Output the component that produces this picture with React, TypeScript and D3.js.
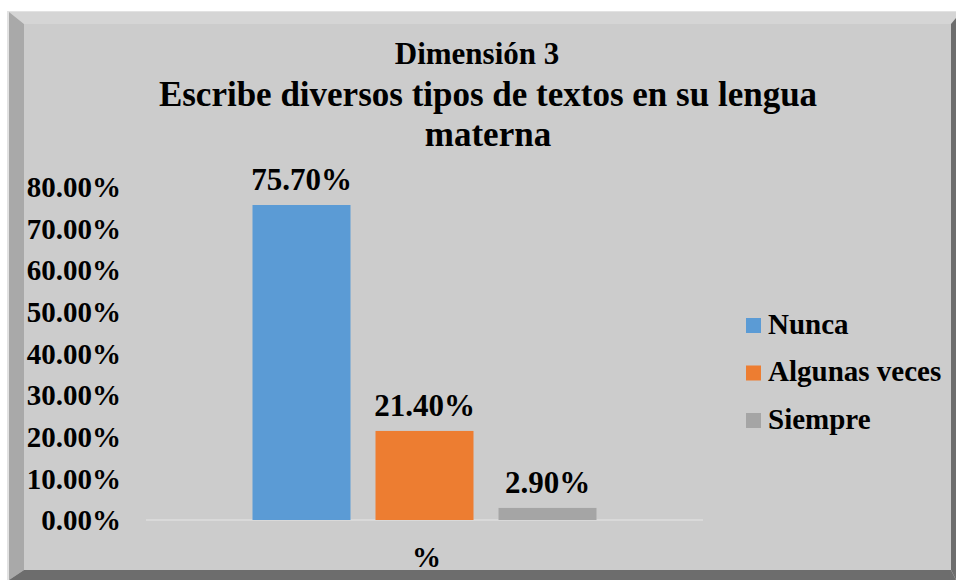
import React from "react";
import * as d3 from "d3";

const titleLines = ["Dimensión 3", "Escribe diversos tipos de textos en su lengua", "materna"];
const category = "%";
const seriesNames = ["Nunca", "Algunas veces", "Siempre"];
const seriesValues = [75.7, 21.4, 2.9];
const seriesColors = ["#5B9BD5", "#ED7D31", "#A5A5A5"];
const yTicks = [0, 10, 20, 30, 40, 50, 60, 70, 80];

const W = 956;
const H = 580;
const FONT = "'Liberation Serif', 'Times New Roman', serif";

export default function App() {
  const plotLeft = 146;
  const plotRight = 703;
  const y = d3.scaleLinear().domain([0, 75.7]).range([520, 205]);
  const x0 = d3.scaleBand().domain([category]).range([plotLeft, plotRight]).paddingInner(0).paddingOuter(0);
  const groupW = 344;
  const x1 = d3
    .scaleBand()
    .domain(seriesNames)
    .range([x0(category)! + (x0.bandwidth() - groupW) / 2, x0(category)! + (x0.bandwidth() + groupW) / 2])
    .paddingInner(25 / 123)
    .paddingOuter(0);

  const txt = { fontFamily: FONT, fontWeight: 700 as const };
  const titleX = [477, 488, 488];
  const titleY = [64, 106, 146];
  const titleSize = [31, 35, 35];

  return (
    <svg
      width={W}
      height={H}
      style={{ position: "absolute", left: 0, top: 0, display: "block", fontFamily: FONT }}
    >
      <rect x={0} y={0} width={W} height={H} fill="#ffffff" />
      {/* frame */}
      <rect x={7} y={11} width={W - 7} height={H - 11} fill="#e2e2e2" />
      <polygon points={`9,12 ${W},12 ${W},24 24,24`} fill="#d5d5d5" />
      <polygon points={`9,12 24,24 24,570 9,580`} fill="#a9a9a9" />
      <polygon points={`9,580 24,570 951,570 ${W},580`} fill="#6d6d6d" />
      <polygon points={`951,24 ${W},18 ${W},580 951,570`} fill="#6d6d6d" />
      <rect x={24} y={24} width={927} height={546} fill="#cccccc" />

      {/* title */}
      {titleLines.map((t, i) => (
        <text key={i} x={titleX[i]} y={titleY[i]} textAnchor="middle" fontSize={titleSize[i]} fill="#000" style={txt}>
          {t}
        </text>
      ))}

      {/* y tick labels */}
      {yTicks.map((t) => (
        <text key={t} x={121} y={y(t)} dy="0.35em" textAnchor="end" fontSize={29} fill="#000" style={txt}>
          {t.toFixed(2) + "%"}
        </text>
      ))}

      {/* baseline */}
      <line x1={plotLeft} x2={plotRight} y1={y(0)} y2={y(0)} stroke="#d9d9d9" strokeWidth={2} />

      {/* bars */}
      {seriesNames.map((s, i) => (
        <g key={s}>
          <rect
            x={x1(s)}
            y={y(seriesValues[i])}
            width={x1.bandwidth()}
            height={y(0) - y(seriesValues[i])}
            fill={seriesColors[i]}
          />
          <text
            x={x1(s)! + x1.bandwidth() / 2}
            y={y(seriesValues[i]) - 15}
            textAnchor="middle"
            fontSize={31}
            fill="#000"
            style={txt}
          >
            {seriesValues[i].toFixed(2) + "%"}
          </text>
        </g>
      ))}

      {/* category label */}
      <text x={x0(category)! + x0.bandwidth() / 2 + 2} y={567} textAnchor="middle" fontSize={29} fill="#000" style={txt}>
        {category}
      </text>

      {/* legend */}
      {seriesNames.map((s, i) => (
        <g key={s} transform={`translate(746, ${318 + i * 47.5})`}>
          <rect x={0} y={0} width={15} height={15} fill={seriesColors[i]} />
          <text x={22} y={15.5} fontSize={29} fill="#000" style={txt}>
            {s}
          </text>
        </g>
      ))}
    </svg>
  );
}
